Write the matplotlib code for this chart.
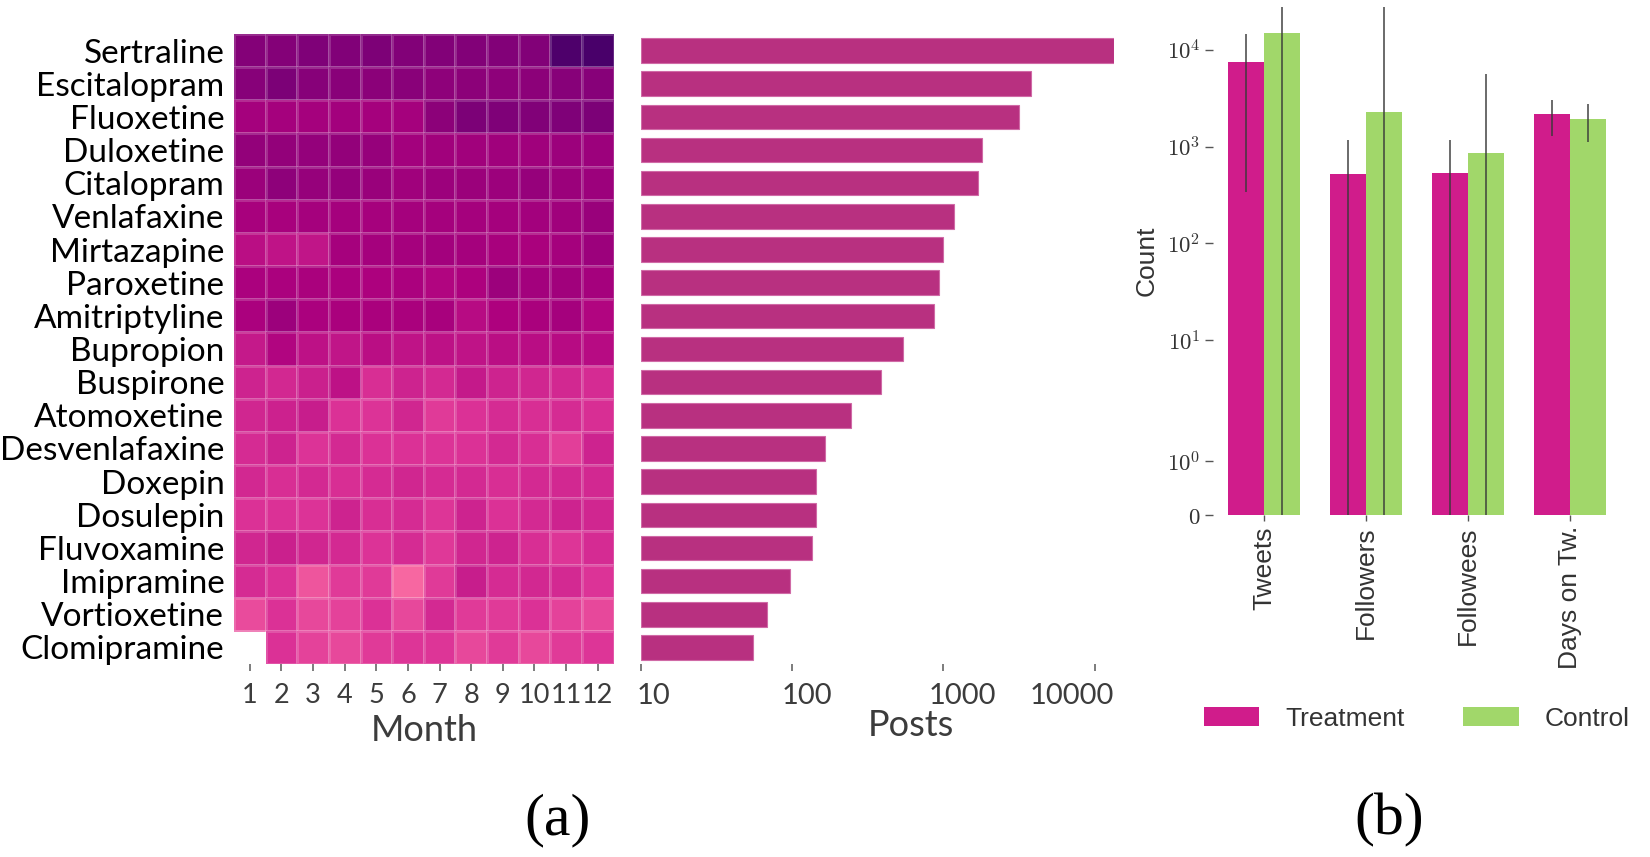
import numpy as np
import matplotlib
matplotlib.use("Agg")
import matplotlib.pyplot as plt
import matplotlib.transforms as mtransforms

# ---------------- data ----------------
drugs = ["Sertraline", "Escitalopram", "Fluoxetine", "Duloxetine", "Citalopram",
         "Venlafaxine", "Mirtazapine", "Paroxetine", "Amitriptyline", "Bupropion",
         "Buspirone", "Atomoxetine", "Desvenlafaxine", "Doxepin", "Dosulepin",
         "Fluvoxamine", "Imipramine", "Vortioxetine", "Clomipramine"]
months = [str(m) for m in range(1, 13)]

# relative monthly intensity (colour level, 0-100)
intensity_sertraline = [85, 85, 86, 85.7, 86.5, 85.5, 85.2, 85.5, 85.2, 85.5, 98.5, 100]
intensity_escitalopram = [84, 87, 84, 83.8, 83.3, 83.7, 82.5, 83, 82.8, 83.2, 84.3, 84.3]
intensity_fluoxetine = [77, 77, 77.2, 77.5, 77, 77.3, 83, 87, 86.3, 85.8, 86.3, 86.8]
intensity_duloxetine = [81.5, 81.5, 81, 81.5, 80.5, 77.5, 78, 78, 78.5, 78.5, 79, 79]
intensity_citalopram = [79.5, 82.5, 80.5, 81, 80, 78.5, 79, 79.5, 79, 80.5, 79.5, 79]
intensity_venlafaxine = [76.5, 76.5, 77, 77, 76.7, 77, 77, 77.2, 77.2, 77.7, 78.5, 80]
intensity_mirtazapine = [71.5, 70.5, 70, 76.7, 77, 77, 77.7, 77.2, 76.5, 76, 77, 79]
intensity_paroxetine = [75.7, 75.7, 76, 75.7, 75, 75.5, 74.2, 75, 79, 77.5, 78, 77.2]
intensity_amitriptyline = [75.7, 79, 75.7, 76, 75.8, 76, 76.5, 72.5, 74.8, 76, 77.2, 74]
intensity_bupropion = [69, 74, 71, 70, 71.5, 70.5, 71, 70.5, 71.5, 72, 72.5, 72.5]
intensity_buspirone = [66.5, 65.5, 67.5, 71, 64, 66.5, 65, 69, 66.5, 66, 65.5, 64.5]
intensity_atomoxetine = [66, 67, 68.2, 63, 62.5, 66, 61, 63.2, 64.5, 64, 64.5, 64]
intensity_desvenlafaxine = [64.5, 66.7, 62.5, 65, 63, 63.2, 62.5, 63.2, 65, 64, 60, 66.7]
intensity_doxepin = [65.5, 64, 65, 64, 64.5, 65.8, 64.5, 65, 64, 65, 65.5, 65.5]
intensity_dosulepin = [63.2, 63.2, 62.8, 66.5, 64, 64.5, 62.2, 66.5, 63, 65, 66.5, 66]
intensity_fluvoxamine = [66, 67.5, 66, 65, 62.5, 64.5, 61.5, 66, 66.7, 64, 62.2, 64.5]
intensity_imipramine = [64.5, 63.2, 54.5, 61, 61, 50, 61, 68, 64.5, 65.5, 65, 62.5]
intensity_vortioxetine = [57, 63.2, 57.5, 59, 63.2, 57.5, 65, 61, 61, 63.2, 59, 57.5]
intensity_clomipramine = [np.nan, 63.2, 59, 57.5, 61, 62.2, 62.2, 57.5, 61, 57.5, 61, 62.2]

posts = [13400, 3790, 3180, 1790, 1700, 1180, 1000, 930, 870, 540,
         390, 246, 165, 145, 143, 136, 97, 68, 55]
posts_ticks = [10, 100, 1000, 10000]

features = ["Tweets", "Followers", "Followees", "Days on Tw."]
treatment_mean = [7480, 515, 536, 2163]
treatment_std = [7140, 663, 642, 872]
control_mean = [14900, 2250, 865, 1932]
control_std = [21000, 30000, 4758, 829]
count_ticks = [0, 1, 10, 100, 1000, 10000]
count_tick_labels = ["$0$", "$10^0$", "$10^1$", "$10^2$", "$10^3$", "$10^4$"]

# ---------------- styling ----------------
plt.rcParams["mathtext.fontset"] = "cm"
plt.rcParams["font.family"] = ["Lato", "DejaVu Sans"]

W, H = 1650, 857
fig = plt.figure(figsize=(W / 100, H / 100), dpi=100)


def fr(x0, y_top, x1, y_bot):
    return [x0 / W, 1 - y_bot / H, (x1 - x0) / W, (y_bot - y_top) / H]


heat_top, heat_bot = 34, 664
grey = "#3c3c3c"

# ---------------- heatmap ----------------
ax_h = fig.add_axes(fr(234, heat_top, 613.5, heat_bot))
mat = np.array([intensity_sertraline, intensity_escitalopram, intensity_fluoxetine,
                intensity_duloxetine, intensity_citalopram, intensity_venlafaxine,
                intensity_mirtazapine, intensity_paroxetine, intensity_amitriptyline,
                intensity_bupropion, intensity_buspirone, intensity_atomoxetine,
                intensity_desvenlafaxine, intensity_doxepin, intensity_dosulepin,
                intensity_fluvoxamine, intensity_imipramine, intensity_vortioxetine,
                intensity_clomipramine])
mat = np.ma.masked_invalid(mat)
ax_h.pcolormesh(np.arange(len(months) + 1), np.arange(len(drugs) + 1), mat,
                cmap="RdPu", vmin=0, vmax=100,
                edgecolors=(1, 1, 1, 0.17), linewidth=1.0)
ax_h.set_xlim(0, len(months))
ax_h.set_ylim(len(drugs), 0)
for s in ax_h.spines.values():
    s.set_visible(False)
ax_h.set_yticks(np.arange(len(drugs)) + 0.5)
ax_h.set_yticklabels(drugs, fontsize=24, color="black")
ax_h.tick_params(axis="y", length=0, pad=7)
ax_h.set_xticks(np.arange(len(months)) + 0.5)
ax_h.set_xticklabels(months, fontsize=19.5, color=grey)
ax_h.tick_params(axis="x", length=5, width=1.2, color="#666666", pad=9)
ax_h.set_xlabel("Month", fontsize=26, color=grey, labelpad=4)

# ---------------- posts bar chart ----------------
ax_b = fig.add_axes(fr(640.6, heat_top, 1114, heat_bot))
ypos = np.arange(len(drugs)) + 0.5
base = posts_ticks[0]
ax_b.barh(ypos, np.array(posts) - base, left=base, height=0.74,
          color="#b83080", edgecolor="#d06aa6", linewidth=0.8)
ax_b.set_xscale("log")
ax_b.set_xlim(base, max(posts))
ax_b.set_ylim(len(drugs), 0)
for s in ax_b.spines.values():
    s.set_visible(False)
ax_b.set_yticks([])
ax_b.set_xticks(posts_ticks)
ax_b.set_xticklabels([str(t) for t in posts_ticks], fontsize=21, color=grey)
ax_b.minorticks_off()
ax_b.tick_params(axis="x", length=5, width=1.2, color="#666666", pad=9)
# the reference's tick labels sit slightly off their ticks
for lab, dx in zip(ax_b.get_xticklabels(), [13, 15, 19, -23]):
    lab.set_transform(lab.get_transform() +
                      mtransforms.ScaledTranslation(dx / 100, 0, fig.dpi_scale_trans))
ax_b.set_xlabel("Posts", fontsize=26, color=grey)
ax_b.xaxis.set_label_coords(0.571, -0.072)

# ---------------- treatment vs control ----------------
ax_r = fig.add_axes(fr(1213, 7, 1621, 515))
x = np.arange(len(features))
bw = 0.35
b1 = ax_r.bar(x - bw / 2, treatment_mean, bw, color="#d01c8b", label="Treatment")
b2 = ax_r.bar(x + bw / 2, control_mean, bw, color="#a1d76a", label="Control")
ax_r.errorbar(x - bw / 2, treatment_mean, yerr=treatment_std, fmt="none",
              ecolor="#3a3a3a", elinewidth=1.4, alpha=0.75, capsize=0)
ax_r.errorbar(x + bw / 2, control_mean, yerr=control_std, fmt="none",
              ecolor="#3a3a3a", elinewidth=1.4, alpha=0.75, capsize=0)
ax_r.set_yscale("symlog", linthresh=2)
ax_r.set_ylim(0, 2.77e4)
ax_r.set_xlim(-0.5, len(features) - 0.5)
for s in ax_r.spines.values():
    s.set_visible(False)
ax_r.set_yticks(count_ticks)
ax_r.set_yticklabels(count_tick_labels, fontsize=16.5, color="#333333")
ax_r.yaxis.set_minor_locator(matplotlib.ticker.NullLocator())
ax_r.tick_params(axis="y", length=6, width=1.0, color="#555555", pad=3)
ax_r.set_xticks(x)
ax_r.set_xticklabels(features, rotation=90, fontsize=19, color="#333333",
                     family=["Liberation Sans", "DejaVu Sans"])
ax_r.tick_params(axis="x", length=4, width=1.0, color="#555555", pad=4)
ax_r.set_ylabel("Count", fontsize=19, color="#333333",
                family=["Liberation Sans", "DejaVu Sans"], labelpad=6)

fig.legend([b1, b2], ["Treatment", "Control"], loc="center",
           bbox_to_anchor=(1417 / W, 1 - 719 / H), ncol=2, frameon=False,
           prop={"family": ["Liberation Sans", "DejaVu Sans"], "size": 19},
           handlelength=2.1, handleheight=0.75, columnspacing=2.2,
           handletextpad=1.0, labelcolor="#333333")

# ---------------- panel labels ----------------
fig.text(558 / W, 1 - 820 / H, "(a)", family=["Liberation Serif", "DejaVu Serif"],
         fontsize=43, ha="center", va="center")
fig.text(1389 / W, 1 - 820 / H, "(b)", family=["Liberation Serif", "DejaVu Serif"],
         fontsize=43, ha="center", va="center")

fig.savefig("out.png", dpi=100, facecolor="white")
